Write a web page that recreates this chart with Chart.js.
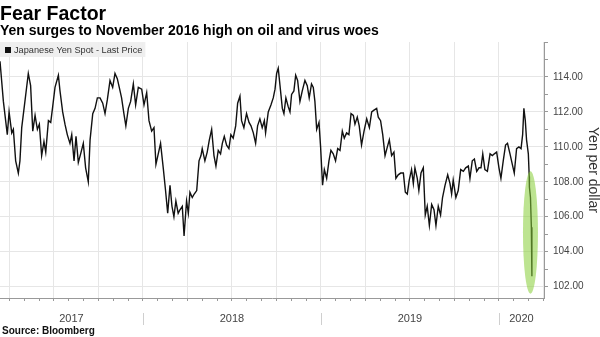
<!DOCTYPE html>
<html>
<head>
<meta charset="utf-8">
<script src="https://cdn.jsdelivr.net/npm/chart.js"></script>
<style>
  html, body { margin: 0; padding: 0; background: #fff; }
  #chart { display: block; }
</style>
</head>
<body>
<canvas id="chart" width="600" height="337"></canvas>
<script>
// USD/JPY spot, last price, as decimal years
const dates = [
  2017.197, 2017.216, 2017.231, 2017.238, 2017.248, 2017.263, 2017.272, 2017.285, 2017.300, 2017.309,
  2017.319, 2017.337, 2017.356, 2017.369, 2017.381, 2017.394, 2017.407, 2017.418, 2017.431, 2017.444,
  2017.454, 2017.469, 2017.482, 2017.493, 2017.506, 2017.525, 2017.534, 2017.549, 2017.562, 2017.575,
  2017.590, 2017.600, 2017.613, 2017.624, 2017.637, 2017.650, 2017.665, 2017.678, 2017.693, 2017.703,
  2017.718, 2017.731, 2017.744, 2017.759, 2017.774, 2017.787, 2017.800, 2017.815, 2017.830, 2017.843,
  2017.856, 2017.867, 2017.880, 2017.893, 2017.904, 2017.918, 2017.931, 2017.946, 2017.959, 2017.974,
  2017.993, 2018.006, 2018.021, 2018.034, 2018.049, 2018.062, 2018.073, 2018.086, 2018.099, 2018.114,
  2018.127, 2018.139, 2018.152, 2018.163, 2018.174, 2018.185, 2018.198, 2018.208, 2018.221, 2018.231,
  2018.245, 2018.255, 2018.264, 2018.277, 2018.288, 2018.302, 2018.315, 2018.326, 2018.333, 2018.348,
  2018.361, 2018.373, 2018.386, 2018.399, 2018.410, 2018.423, 2018.436, 2018.446, 2018.457, 2018.470,
  2018.483, 2018.494, 2018.507, 2018.521, 2018.532, 2018.545, 2018.554, 2018.567, 2018.582, 2018.596,
  2018.607, 2018.620, 2018.633, 2018.644, 2018.657, 2018.670, 2018.682, 2018.689, 2018.704, 2018.719,
  2018.732, 2018.742, 2018.751, 2018.760, 2018.770, 2018.783, 2018.792, 2018.803, 2018.816, 2018.826,
  2018.835, 2018.848, 2018.858, 2018.869, 2018.882, 2018.895, 2018.910, 2018.923, 2018.934, 2018.947,
  2018.957, 2018.966, 2018.976, 2018.989, 2018.998, 2019.009, 2019.019, 2019.032, 2019.045, 2019.056,
  2019.069, 2019.082, 2019.094, 2019.107, 2019.120, 2019.131, 2019.144, 2019.157, 2019.169, 2019.182,
  2019.191, 2019.204, 2019.215, 2019.228, 2019.242, 2019.257, 2019.272, 2019.285, 2019.298, 2019.313,
  2019.322, 2019.335, 2019.347, 2019.360, 2019.373, 2019.384, 2019.397, 2019.410, 2019.421, 2019.434,
  2019.448, 2019.463, 2019.474, 2019.485, 2019.496, 2019.509, 2019.519, 2019.528, 2019.541, 2019.550,
  2019.562, 2019.575, 2019.586, 2019.597, 2019.609, 2019.622, 2019.635, 2019.646, 2019.659, 2019.672,
  2019.683, 2019.697, 2019.712, 2019.725, 2019.734, 2019.743, 2019.758, 2019.771, 2019.785, 2019.800,
  2019.813, 2019.828, 2019.837, 2019.850, 2019.862, 2019.875, 2019.888, 2019.899, 2019.909, 2019.921,
  2019.935, 2019.950, 2019.963, 2019.974, 2019.987, 2020.000, 2020.011, 2020.024, 2020.037, 2020.048,
  2020.062, 2020.075, 2020.086, 2020.099, 2020.112, 2020.124, 2020.133, 2020.140, 2020.148, 2020.155,
  2020.165, 2020.170, 2020.171, 2020.177, 2020.182, 2020.185
];
const prices = [
  114.9, 112.6, 111.3, 110.7, 112.0, 110.8, 111.0, 109.2, 108.5, 109.2,
  111.1, 112.6, 114.2, 113.5, 110.9, 111.8, 111.0, 111.3, 109.5, 110.3,
  109.7, 111.5, 111.4, 112.3, 113.4, 114.1, 113.2, 112.0, 111.3, 110.7,
  110.2, 110.7, 109.2, 110.6, 109.1, 109.6, 110.2, 108.8, 108.0, 110.4,
  111.9, 112.2, 112.8, 112.8, 112.5, 111.9, 112.7, 113.8, 113.4, 114.2,
  113.9, 113.4, 112.8, 111.9, 111.2, 112.2, 112.6, 113.6, 112.4, 113.4,
  113.3, 112.4, 113.1, 111.5, 110.9, 111.1, 109.0, 109.6, 110.2, 108.8,
  107.5, 106.2, 107.8, 106.6, 106.0, 106.9, 106.2, 106.4, 106.6, 104.9,
  106.9, 106.2, 107.4, 107.1, 107.3, 107.5, 109.2, 109.5, 109.9, 109.2,
  109.7, 110.4, 111.0, 109.5, 108.9, 109.8, 109.6, 110.2, 110.6, 110.1,
  109.9, 110.7, 110.5, 111.2, 112.5, 112.9, 111.5, 111.1, 111.9, 111.4,
  111.2, 110.8, 110.2, 111.2, 111.6, 111.1, 111.5, 110.8, 112.0, 112.4,
  112.8, 113.3, 114.2, 114.5, 113.5, 112.2, 111.9, 112.8, 112.3, 112.0,
  113.0, 113.2, 114.1, 113.8, 112.6, 113.2, 113.8, 113.5, 112.8, 113.6,
  113.4, 112.6, 111.0, 111.4, 110.0, 107.8, 108.7, 108.2, 109.2, 109.8,
  109.6, 109.2, 109.9, 109.8, 110.9, 110.5, 110.8, 110.7, 111.9, 111.8,
  111.3, 111.7, 111.2, 110.1, 110.9, 111.6, 111.1, 112.0, 112.1, 112.2,
  111.7, 111.5, 110.7, 109.5, 110.0, 110.4, 109.5, 109.7, 108.2, 108.4,
  108.5, 108.5, 107.4, 107.3, 108.1, 108.7, 107.9, 108.8, 108.2, 107.5,
  108.5, 108.8, 106.1, 106.6, 105.5, 106.7, 106.4, 105.5, 106.6, 106.1,
  107.1, 107.8, 108.4, 107.9, 107.3, 108.1, 107.1, 107.5, 108.7, 108.6,
  108.8, 108.9, 108.2, 109.2, 109.3, 108.6, 108.8, 108.8, 109.6, 108.7,
  108.6, 109.6, 109.5, 109.6, 109.7, 108.8, 108.2, 109.2, 110.1, 110.2,
  109.6, 109.0, 108.5, 109.9, 110.0, 109.9, 110.7, 112.2, 111.5, 110.4,
  109.6, 108.3, 107.7, 107.1, 105.4, 102.6
];

const yearLabels = ['2017', '2018', '2019', '2020'];
const yearStarts = [2018, 2019, 2020];
const xMin = 2017.197;
const xMax = 2020.253;
const yMin = 101.35;
const yMax = 116;

// the March 2020 plunge, circled in green
const highlight = { at: 2020.177, low: 101.6, high: 108.6 };

const seriesLabel = 'Japanese Yen Spot - Last Price';
const FONT = '"Liberation Sans", Arial, sans-serif';

const monthTicks = [];
for (let m = Math.ceil(xMin * 12); m <= Math.floor(xMax * 12); m++) {
  monthTicks.push(m / 12);
}
const isQuarter = v => Math.abs(Math.round(v * 12) % 3) === 0;

const yearCenters = yearLabels.map(y => {
  const a = Math.max(+y, xMin);
  const b = Math.min(+y + 1, xMax);
  return (a + b) / 2;
});

const extras = {
  id: 'extras',
  afterDatasetsDraw(chart) {
    const { ctx, scales: { x, y }, chartArea } = chart;

    // green ellipse around the final drop
    const cx = x.getPixelForValue(highlight.at);
    const top = y.getPixelForValue(highlight.high);
    const bottom = y.getPixelForValue(highlight.low);
    ctx.save();
    ctx.beginPath();
    ctx.ellipse(cx, (top + bottom) / 2, 7.5, (bottom - top) / 2, 0, 0, Math.PI * 2);
    ctx.fillStyle = 'rgba(135, 205, 55, 0.55)';
    ctx.fill();
    ctx.restore();

    // legend box in the top-left corner of the plot
    ctx.save();
    ctx.font = '9.2px ' + FONT;
    const tw = ctx.measureText(seriesLabel).width;
    ctx.fillStyle = 'rgba(238, 238, 238, 0.95)';
    ctx.fillRect(chartArea.left, chartArea.top, tw + 17, 15);
    ctx.fillStyle = '#111';
    ctx.fillRect(chartArea.left + 5, chartArea.top + 5, 6, 6);
    ctx.fillStyle = '#333';
    ctx.textBaseline = 'middle';
    ctx.fillText(seriesLabel, chartArea.left + 14, chartArea.top + 8.5);
    ctx.restore();
  },
  afterDraw(chart) {
    const { ctx, scales: { x, x2 } } = chart;
    ctx.save();
    // year separators under the axis
    ctx.strokeStyle = '#cfcfcf';
    ctx.lineWidth = 1;
    yearStarts.forEach(v => {
      const px = Math.round(x.getPixelForValue(v)) + 0.5;
      ctx.beginPath();
      ctx.moveTo(px, x2.top + 12);
      ctx.lineTo(px, x2.top + 24);
      ctx.stroke();
    });
    // source line
    ctx.fillStyle = '#111';
    ctx.font = 'bold 10px ' + FONT;
    ctx.textBaseline = 'middle';
    ctx.fillText('Source: Bloomberg', 2, chart.height - 6);
    ctx.restore();
  }
};

new Chart(document.getElementById('chart'), {
  type: 'line',
  data: {
    datasets: [{
      label: seriesLabel,
      data: dates.map((t, i) => ({ x: t, y: prices[i] })),
      borderColor: '#111',
      borderWidth: 1.4,
      pointRadius: 0,
      tension: 0,
      fill: false
    }]
  },
  options: {
    responsive: false,
    animation: false,
    devicePixelRatio: 1,
    layout: { padding: { left: 0, right: 0, top: 0, bottom: 0 } },
    plugins: {
      legend: { display: false },
      tooltip: { enabled: false },
      title: {
        display: true,
        text: 'Fear Factor',
        align: 'start',
        color: '#000',
        font: { family: FONT, size: 19.5, weight: 'bold', lineHeight: 1 },
        padding: { top: 4.5, bottom: 0 }
      },
      subtitle: {
        display: true,
        text: 'Yen surges to November 2016 high on oil and virus woes',
        align: 'start',
        color: '#000',
        font: { family: FONT, size: 14, weight: 'bold', lineHeight: 1 },
        padding: { top: 0, bottom: 4 }
      }
    },
    scales: {
      x: {
        type: 'linear',
        position: 'bottom',
        min: xMin,
        max: xMax,
        afterBuildTicks: axis => { axis.ticks = monthTicks.map(v => ({ value: v })); },
        ticks: { display: false, autoSkip: false },
        grid: {
          color: c => (c.tick && isQuarter(c.tick.value)) ? '#e6e6e6' : 'rgba(0,0,0,0)',
          tickColor: '#999',
          tickLength: 3,
          lineWidth: 1
        },
        border: { display: true, color: '#999', width: 1 }
      },
      x2: {
        type: 'linear',
        position: 'bottom',
        min: xMin,
        max: xMax,
        afterBuildTicks: axis => { axis.ticks = yearCenters.map(v => ({ value: v })); },
        ticks: {
          autoSkip: false,
          maxRotation: 0,
          padding: 11.4,
          color: '#444',
          font: { family: FONT, size: 11 },
          callback: (v, i) => yearLabels[i]
        },
        grid: { display: false, drawTicks: false },
        border: { display: false }
      },
      y: {
        type: 'linear',
        position: 'right',
        min: yMin,
        max: yMax,
        afterFit: axis => { axis.width = 56; },
        afterBuildTicks: axis => {
          const t = [];
          for (let v = 102; v <= 116; v++) t.push({ value: v });
          axis.ticks = t;
        },
        ticks: {
          padding: 5,
          color: '#444',
          font: { family: FONT, size: 10 },
          callback: v => (v % 2 === 0 && v <= 114) ? v.toFixed(2) : ''
        },
        grid: {
          color: c => (c.tick && c.tick.value % 2 === 0 && c.tick.value < 116) ? '#e6e6e6' : 'rgba(0,0,0,0)',
          tickColor: '#999',
          tickLength: 4
        },
        border: { display: true, color: '#999', width: 1 },
        title: {
          display: true,
          text: 'Yen per dollar',
          color: '#333',
          font: { family: FONT, size: 14, lineHeight: 1 },
          padding: { top: 0, bottom: 0 }
        }
      }
    }
  },
  plugins: [extras]
});
</script>
</body>
</html>
